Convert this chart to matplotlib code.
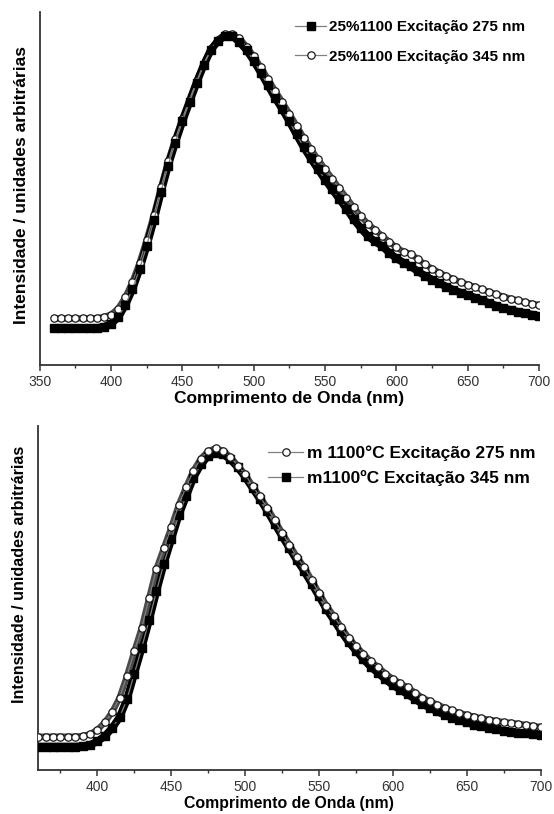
import matplotlib
matplotlib.use("Agg")
import matplotlib.pyplot as plt
from matplotlib.ticker import MultipleLocator, FixedLocator

plt.rcParams['font.family'] = ['Liberation Sans', 'DejaVu Sans']

# comprimento de onda (nm), passo de 5 nm
wl = list(range(360, 705, 5))

# painel superior: 25%1100
top_275 = [.104, .104, .104, .104, .104, .104, .105, .108, .117, .135,
           .170, .215, .272, .338, .410, .490, .565, .630, .690, .745,
           .800, .850, .893, .918, .933, .932, .915, .892, .862, .828,
           .792, .757, .725, .690, .653, .617, .585, .555, .525, .498,
           .470, .443, .413, .388, .365, .350, .337, .318, .302, .290,
           .280, .265, .253, .242, .232, .222, .213, .205, .198, .191,
           .184, .175, .168, .161, .156, .151, .147, .143, .139]
top_345 = [.132, .132, .132, .132, .132, .132, .133, .136, .143, .160,
           .192, .235, .290, .355, .425, .503, .577, .640, .698, .752,
           .805, .853, .895, .922, .937, .937, .925, .902, .875, .843,
           .810, .777, .745, .712, .678, .644, .612, .583, .555, .528,
           .500, .474, .447, .422, .400, .383, .366, .349, .333, .321,
           .315, .300, .285, .273, .262, .252, .243, .235, .228, .221,
           .214, .207, .200, .194, .188, .183, .178, .174, .170]

# painel inferior: m1100ºC
bot_275 = [.097, .097, .097, .097, .097, .097, .099, .104, .117, .138,
           .168, .210, .273, .345, .413, .500, .585, .645, .705, .770,
           .822, .870, .905, .927, .935, .928, .910, .885, .860, .825,
           .795, .762, .726, .690, .655, .620, .590, .552, .515, .478,
           .448, .415, .385, .360, .338, .316, .300, .280, .265, .252,
           .240, .225, .210, .200, .190, .181, .173, .166, .160, .155,
           .150, .146, .143, .139, .137, .134, .131, .128, .125]
bot_345 = [.068, .068, .068, .068, .068, .068, .069, .073, .083, .098,
           .122, .153, .205, .280, .355, .435, .520, .600, .670, .740,
           .795, .850, .888, .913, .922, .918, .903, .880, .852, .820,
           .788, .753, .716, .680, .645, .610, .578, .542, .505, .468,
           .436, .403, .372, .347, .322, .300, .282, .263, .247, .233,
           .220, .206, .192, .181, .170, .160, .152, .144, .138, .132,
           .127, .122, .118, .114, .111, .108, .106, .104, .102]

top_labels = ["25%1100 Excitação 275 nm", "25%1100 Excitação 345 nm"]
bot_labels = ["m 1100°C Excitação 275 nm", "m1100ºC Excitação 345 nm"]

xlabel = "Comprimento de Onda (nm)"
ylabel = "Intensidade / unidades arbitrárias"


def serie_cheia(ax, y, label):
    ax.plot(wl, y, color="black", lw=5.5, solid_capstyle="butt", zorder=2)
    ax.plot(wl, y, color="#808080", lw=0.9, marker="s", ms=5.5,
            mfc="black", mec="black", label=label, zorder=3)


def serie_aberta(ax, y, label):
    ax.plot(wl, y, color="#4a4a4a", lw=4.5, solid_capstyle="butt", zorder=2)
    ax.plot(wl, y, color="#808080", lw=0.9, marker="o", ms=5.3,
            mfc="white", mec="#1a1a1a", mew=0.9, label=label, zorder=3)


def estilo(ax, xmin, ticks, fs_x, fs_y, ylab_pos):
    ax.set_xlim(xmin, 700)
    ax.set_ylim(0, 1)
    ax.spines["top"].set_visible(False)
    ax.spines["right"].set_visible(False)
    for s in ("left", "bottom"):
        ax.spines[s].set_linewidth(1.3)
        ax.spines[s].set_color("#333333")
    ax.set_yticks([])
    ax.xaxis.set_major_locator(FixedLocator(ticks))
    ax.xaxis.set_minor_locator(MultipleLocator(25))
    ax.tick_params(axis="x", which="major", direction="out", length=4,
                   width=1.1, color="#333333", labelsize=10,
                   labelcolor="#333333", pad=3)
    ax.tick_params(axis="x", which="minor", direction="out", length=2.5,
                   width=1.0, color="#333333")
    ax.set_xlabel(xlabel, fontsize=fs_x, fontweight="bold", labelpad=2)
    ax.set_ylabel(ylabel, fontsize=fs_y, fontweight="bold")
    ax.yaxis.set_label_coords(*ylab_pos)


fig = plt.figure(figsize=(5.54, 8.14), dpi=100)

ax1 = fig.add_axes([0.0717, 0.5516, 0.9013, 0.4337])
serie_aberta(ax1, top_345, top_labels[1])
serie_cheia(ax1, top_275, top_labels[0])
estilo(ax1, 350, list(range(350, 701, 50)), 12.5, 12.5, (-0.022, 0.51))
h, l = ax1.get_legend_handles_labels()
ax1.legend(h[::-1], l[::-1], loc="upper right", bbox_to_anchor=(1.0, 1.015),
           frameon=False, handlelength=2.0, handletextpad=0.2,
           labelspacing=1.0, prop={"weight": "bold", "size": 11})

ax2 = fig.add_axes([0.0691, 0.0541, 0.9067, 0.4226])
serie_cheia(ax2, bot_345, bot_labels[1])
serie_aberta(ax2, bot_275, bot_labels[0])
estilo(ax2, 360, list(range(400, 701, 50)), 11.4, 11.6, (-0.023, 0.57))
h, l = ax2.get_legend_handles_labels()
ax2.legend(h[::-1], l[::-1], loc="upper right", bbox_to_anchor=(1.02, 0.99),
           frameon=False, handlelength=2.0, handletextpad=0.2,
           labelspacing=0.55, prop={"weight": "bold", "size": 12.5})

fig.savefig("out.png", dpi=100)
